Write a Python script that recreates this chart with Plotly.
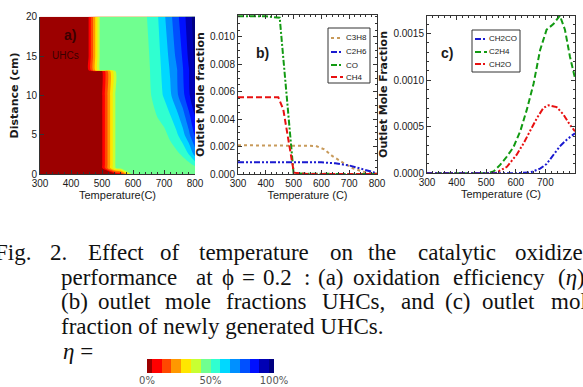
import plotly.graph_objects as go

W, H = 583, 387

# ---------------- (a) oxidation efficiency map ----------------
temperature_a = [300, 450, 456, 494, 500, 545, 560, 598, 620, 640, 660, 680, 700, 720, 740, 760, 780, 800]
distance_a = [0, 0.8, 1.2, 2.5, 5, 7.5, 10, 13.1, 13.2, 15, 20]
efficiency_a = [
    [0, 0, 0, 0, 0, 0, 0.03, 0.44, 0.46, 0.46, 0.46, 0.46, 0.46, 0.46, 0.46, 0.46, 0.46, 0.46],
    [0, 0, 0, 0, 0.03, 0.44, 0.46, 0.46, 0.46, 0.46, 0.46, 0.46, 0.46, 0.46, 0.46, 0.46, 0.46, 0.47],
    [0, 0, 0, 0, 0.03, 0.44, 0.46, 0.46, 0.46, 0.46, 0.46, 0.46, 0.46, 0.46, 0.46, 0.46, 0.47, 0.52],
    [0, 0, 0, 0, 0.03, 0.44, 0.46, 0.46, 0.46, 0.46, 0.46, 0.46, 0.46, 0.465, 0.48, 0.51, 0.575, 0.68],
    [0, 0, 0, 0, 0.03, 0.44, 0.46, 0.46, 0.46, 0.46, 0.46, 0.47, 0.48, 0.515, 0.56, 0.625, 0.71, 0.82],
    [0, 0, 0, 0, 0.03, 0.44, 0.46, 0.46, 0.46, 0.462, 0.48, 0.505, 0.53, 0.575, 0.63, 0.70, 0.79, 0.89],
    [0, 0, 0, 0, 0.03, 0.44, 0.46, 0.46, 0.46, 0.465, 0.502, 0.54, 0.585, 0.64, 0.71, 0.78, 0.87, 0.96],
    [0, 0, 0, 0, 0.03, 0.44, 0.46, 0.46, 0.46, 0.47, 0.51, 0.55, 0.60, 0.66, 0.72, 0.80, 0.88, 0.97],
    [0, 0, 0.03, 0.44, 0.46, 0.46, 0.46, 0.46, 0.46, 0.47, 0.51, 0.55, 0.60, 0.66, 0.72, 0.80, 0.88, 0.97],
    [0, 0, 0.03, 0.44, 0.46, 0.46, 0.46, 0.46, 0.462, 0.475, 0.515, 0.555, 0.61, 0.675, 0.745, 0.815, 0.90, 0.98],
    [0, 0, 0.03, 0.44, 0.46, 0.46, 0.46, 0.46, 0.465, 0.49, 0.53, 0.573, 0.64, 0.71, 0.78, 0.85, 0.925, 1.0],
]
eta_colors = ['#9c0000', '#ff0000', '#ff4800', '#ff9800', '#ffe600', '#c8ff32', '#70ff90',
              '#30ffd0', '#00d8ff', '#0090ff', '#0050ff', '#0010ff', '#0000b4', '#000080']
eta_tick_vals = [0, 50, 100]
eta_tick_text = ['0%', '50%', '100%']

# ---------------- (b) outlet mole fractions of UHCs ----------------
c3h8_t = [300, 400, 500, 550, 580, 610, 640, 680, 715, 750, 790, 800]
c3h8_y = [0.0021, 0.0021, 0.0021, 0.0021, 0.00205, 0.0018, 0.0013, 0.0008, 0.0004, 0.00017, 0.00005, 0.00003]
c2h6_t = [300, 450, 600, 650, 700, 740, 770, 800]
c2h6_y = [0.00085, 0.00085, 0.00085, 0.00078, 0.00062, 0.0004, 0.0002, 0.00005]
co_t = [300, 350, 400, 450, 475, 500, 550, 600, 700, 800]
co_y = [0.0115, 0.0115, 0.0115, 0.0114, 0.0058, 0.00005, 0.00002, 0, 0, 0]
ch4_t = [300, 350, 400, 445, 463, 475, 484, 493, 501, 550, 600, 700, 800]
ch4_y = [0.0056, 0.0056, 0.0056, 0.0056, 0.0047, 0.0032, 0.0022, 0.001, 0.0001, 0, 0, 0, 0]

# ---------------- (c) newly generated UHCs ----------------
ch2co_t = [300, 400, 500, 600, 650, 682, 704, 727, 749, 772, 800]
ch2co_y = [0, 0, 0, 0, 0.00001, 0.00005, 0.0001, 0.0002, 0.00029, 0.00036, 0.00043]
c2h4_t = [300, 400, 500, 525, 547, 570, 592, 615, 637, 660, 682, 704, 727, 749, 766, 783, 800]
c2h4_y = [0, 0, 0, 0.00002, 0.00009, 0.00018, 0.00028, 0.00045, 0.00068, 0.00096, 0.00132,
          0.00154, 0.0016, 0.00169, 0.00154, 0.00125, 0.00102]
ch2o_t = [300, 400, 500, 530, 570, 603, 626, 648, 671, 693, 710, 738, 761, 783, 800]
ch2o_y = [0, 0, 0, 0, 0.00007, 0.0002, 0.00032, 0.00046, 0.00059, 0.0007, 0.00073, 0.00071,
          0.00063, 0.00052, 0.00045]


def fx(px):
    return px / W


def fy(py):
    return 1 - py / H


NARROW = "Liberation Sans Narrow, Arial Narrow, Liberation Sans, sans-serif"
WIDE = "DejaVu Sans, Liberation Sans, sans-serif"
SERIF = "Liberation Serif, Times New Roman, serif"
INK = '#1a1a1a'

fig = go.Figure()

n_lv = len(eta_colors) - 1
cscale = [[k / n_lv, c] for k, c in enumerate(eta_colors)]

fig.add_trace(go.Contour(
    x=temperature_a, y=distance_a, z=efficiency_a,
    colorscale=cscale, zmin=0, zmax=1, showscale=False,
    contours=dict(start=0.5 / n_lv, end=0.962, size=1 / n_lv, coloring='fill', showlines=False),
    line=dict(width=0, smoothing=0.7), hoverinfo='skip', showlegend=False,
    xaxis='x', yaxis='y'))

# colour key for eta
edges = [0] + [(k + 0.5) / n_lv * 100 for k in range(n_lv)] + [100]
fig.add_trace(go.Heatmap(
    x=edges, y=[0], z=[list(range(len(eta_colors)))],
    colorscale=cscale, zmin=0, zmax=n_lv,
    showscale=False, hoverinfo='skip', xaxis='x4', yaxis='y4', showlegend=False))

DDOT = '6px,2px,2px,2px,2px,2px'
DDASH = '6px,2px,2px,2px'
DASH = '6px,3px'

series_b = [
    ('C3H8', c3h8_t, c3h8_y, '#c89a5a', 'dot'),
    ('C2H6', c2h6_t, c2h6_y, '#1a1ad0', DDOT),
    ('CO', co_t, co_y, '#129a12', DDASH),
    ('CH4', ch4_t, ch4_y, '#e81010', DASH),
]
series_c = [
    ('CH2CO', ch2co_t, ch2co_y, '#1a1ad0', DDOT),
    ('C2H4', c2h4_t, c2h4_y, '#129a12', DASH),
    ('CH2O', ch2o_t, ch2o_y, '#e81010', DDOT),
]
for name, t, y, col, dash in series_b:
    fig.add_trace(go.Scatter(x=t, y=y, name=name, mode='lines', showlegend=False,
                             line=dict(color=col, width=2, dash=dash), xaxis='x2', yaxis='y2'))
for name, t, y, col, dash in [series_c[1], series_c[2], series_c[0]]:
    fig.add_trace(go.Scatter(x=t, y=y, name=name, mode='lines', showlegend=False,
                             line=dict(color=col, width=2, dash=dash), xaxis='x3', yaxis='y3'))

tickfont = dict(family=NARROW, size=10, color=INK)
common = dict(showgrid=False, zeroline=False, tickfont=tickfont, ticks='inside', ticklen=4,
              tickcolor='#333', linecolor='#333', linewidth=1, automargin=False)
xt_font = dict(family=NARROW, size=11, color=INK)
yt_font = dict(family=WIDE, size=11, color=INK)

fig.update_layout(
    width=W, height=H, margin=dict(l=0, r=0, t=0, b=0, autoexpand=False),
    paper_bgcolor='white', plot_bgcolor='white', showlegend=False,
    xaxis=dict(domain=[fx(40), fx(195)], range=[300, 800], dtick=100, anchor='y',
               minor=dict(ticks='inside', ticklen=2, dtick=20, tickcolor='#333'),
               title=dict(text='Temperature(C)', font=xt_font, standoff=2), **common),
    yaxis=dict(domain=[fy(174.3), fy(16.7)], range=[0, 20], dtick=5, anchor='x',
               title=dict(text='<b>Distance (cm)</b>', font=yt_font, standoff=5), **common),
    xaxis2=dict(domain=[fx(238), fx(377)], range=[300, 800], dtick=100, anchor='y2', showline=True,
                mirror='allticks', minor=dict(ticks='inside', ticklen=2, dtick=20, tickcolor='#333'),
                title=dict(text='Temperature (C)', font=xt_font, standoff=2), **common),
    yaxis2=dict(domain=[fy(174), fy(15)], range=[0, 0.0116], dtick=0.002, tickformat='.3f', anchor='x2',
                showline=True, mirror='allticks',
                minor=dict(ticks='inside', ticklen=2, dtick=0.0005, tickcolor='#333'),
                title=dict(text='<b>Outlet Mole fraction</b>', font=yt_font, standoff=3), **common),
    xaxis3=dict(domain=[fx(427), fx(575)], range=[300, 800], dtick=100, anchor='y3', showline=True,
                mirror='allticks', minor=dict(ticks='inside', ticklen=2, dtick=20, tickcolor='#333'),
                title=dict(text='Temperature (C)', font=xt_font, standoff=2), **common),
    yaxis3=dict(domain=[fy(173.3), fy(15.7)], range=[0, 0.00169], dtick=0.0005, tickformat='.4f', anchor='x3',
                showline=True, mirror='allticks',
                minor=dict(ticks='inside', ticklen=2, dtick=0.0001, tickcolor='#333'),
                title=dict(text='<b>Outlet Mole Fraction</b>', font=yt_font, standoff=3), **common),
    xaxis4=dict(domain=[fx(147), fx(274)], range=[0, 100], tickvals=eta_tick_vals, ticktext=eta_tick_text,
                anchor='y4', showgrid=False, zeroline=False, showline=False, ticks='', automargin=False,
                tickfont=dict(family=WIDE, size=10, color='#555')),
    yaxis4=dict(domain=[fy(373), fy(359)], range=[-0.5, 0.5], anchor='x4', visible=False, automargin=False),
)

ann = []
shapes = []


# legends (drawn as boxed keys inside panels b and c)
def add_key(series, box, sample_x, text_x, rows):
    x0, y0, x1, y1 = box
    shapes.append(dict(type='rect', xref='paper', yref='paper', x0=fx(x0), x1=fx(x1), y0=fy(y1), y1=fy(y0),
                       line=dict(color='#333', width=1), fillcolor='white', layer='above'))
    for (name, _, _, col, dash), ry in zip(series, rows):
        shapes.append(dict(type='line', xref='paper', yref='paper', x0=fx(sample_x[0]), x1=fx(sample_x[1]),
                           y0=fy(ry), y1=fy(ry), line=dict(color=col, width=2, dash=dash), layer='above'))
        ann.append(dict(x=fx(text_x), y=fy(ry), xref='paper', yref='paper', text=name, showarrow=False,
                        xanchor='left', yanchor='middle', font=dict(family=NARROW, size=8, color=INK)))


add_key(series_b, (328, 28, 370, 83), (331, 343), 344, [38, 52, 65, 77])
add_key(series_c, (472, 30, 520, 72), (475, 487), 487, [39, 52, 64])

# panel labels
ann.append(dict(x=397, y=17.7, xref='x', yref='y', text='<b>a)</b>', showarrow=False,
                font=dict(family=NARROW, size=14, color='#3a0000')))
ann.append(dict(x=381, y=15.1, xref='x', yref='y', text='UHCs', showarrow=False,
                font=dict(family=NARROW, size=10, color='#3a0000')))
ann.append(dict(x=fx(262), y=fy(43), xref='paper', yref='paper', text='<b>b)</b>', showarrow=False,
                font=dict(family=NARROW, size=14, color=INK)))
ann.append(dict(x=fx(455), y=fy(43), xref='paper', yref='paper', text='<b>c)</b>', showarrow=False,
                font=dict(family=NARROW, size=14, color=INK)))

# caption (justified lines, word by word)
caption_lines = [
    (259, [("Fig.", -5), ("2.", 50), ("Effect", 88), ("of", 160), ("temperature", 199), ("on", 330),
           ("the", 368), ("catalytic", 418), ("oxidizer", 515)]),
    (284, [("performance", 61), ("at", 196), ("ϕ", 222), ("=", 242), ("0.2", 263), (":", 304),
           ("(a)", 318), ("oxidation", 353), ("efficiency", 453), ("(<i>η</i>),", 558)]),
    (308, [("(b)", 61), ("outlet", 98), ("mole", 165), ("fractions", 226), ("UHCs,", 322), ("and", 401),
           ("(c)", 445), ("outlet", 482), ("mole", 551)]),
    (333, [("fraction of newly generated UHCs.", 61)]),
    (358, [("<i>η</i> =", 63)]),
]
for base, words in caption_lines:
    for w, xpx in words:
        ann.append(dict(x=fx(xpx - 2), y=fy(base - 7), xref='paper', yref='paper', text=w,
                        showarrow=False, xanchor='left', yanchor='middle',
                        font=dict(family=SERIF, size=23, color='#111')))

fig.update_layout(annotations=ann, shapes=shapes)
fig.write_html("out.html", config={'displayModeBar': False},
               post_script="document.body.style.margin='0';document.body.style.overflow='hidden';")
